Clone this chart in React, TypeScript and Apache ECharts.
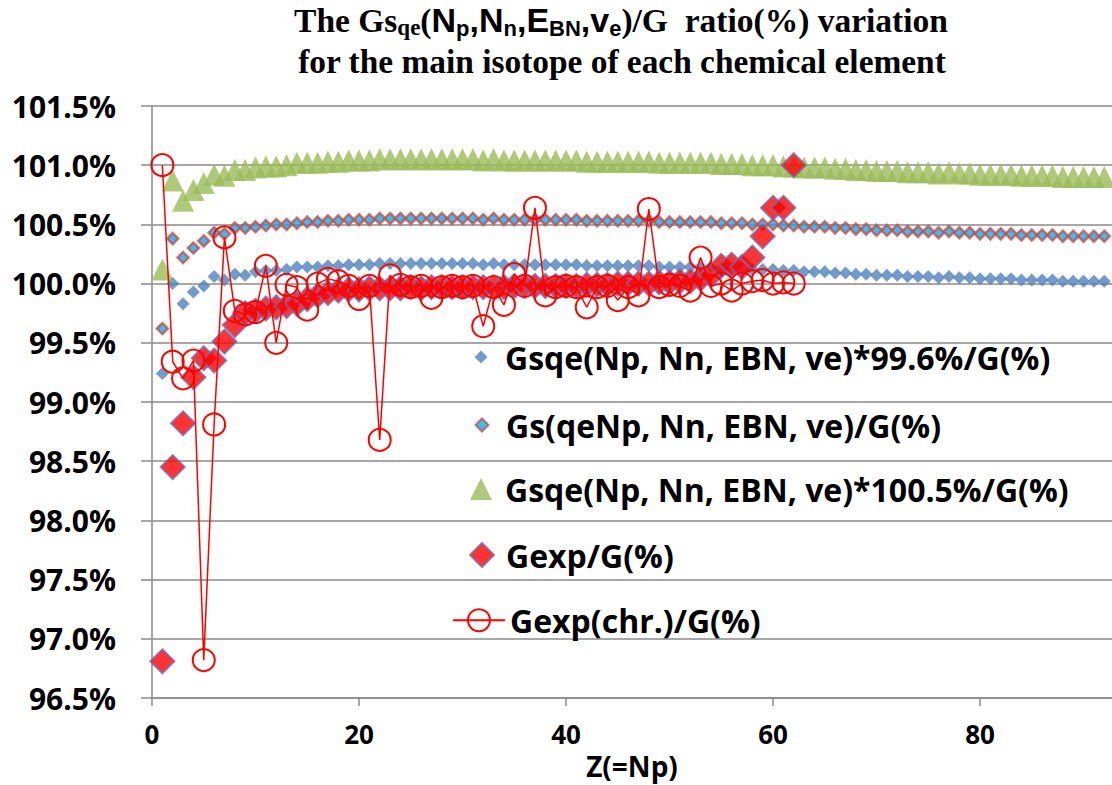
import React, { useEffect, useRef } from "react";
import * as echarts from "echarts";

// Z = Np, proton number (x axis)
const gsqe996: number[] = [
  99.24, 100.0, 99.83, 99.93, 99.98, 100.06, 100.03, 100.08, 100.07, 100.1,
  100.11, 100.11, 100.12, 100.14, 100.14, 100.14, 100.15, 100.15, 100.16, 100.16,
  100.16, 100.17, 100.17, 100.17, 100.17, 100.17, 100.17, 100.17, 100.17, 100.17,
  100.17, 100.16, 100.17, 100.16, 100.16, 100.16, 100.16, 100.16, 100.16, 100.16,
  100.16, 100.15, 100.15, 100.15, 100.15, 100.15, 100.15, 100.15, 100.14, 100.14,
  100.14, 100.14, 100.14, 100.14, 100.13, 100.13, 100.13, 100.12, 100.12, 100.12,
  100.11, 100.11, 100.1, 100.1, 100.1, 100.09, 100.09, 100.08, 100.08, 100.07,
  100.07, 100.07, 100.06, 100.06, 100.06, 100.05, 100.06, 100.05, 100.05, 100.04,
  100.04, 100.04, 100.04, 100.03, 100.03, 100.03, 100.03, 100.02, 100.02, 100.02,
  100.02, 100.02,
];

const gsQeNp: number[] = [
  99.62, 100.38, 100.22, 100.3, 100.36, 100.43, 100.42, 100.47, 100.47, 100.48,
  100.49, 100.5, 100.5, 100.51, 100.52, 100.52, 100.53, 100.53, 100.54, 100.54,
  100.54, 100.55, 100.55, 100.55, 100.55, 100.55, 100.55, 100.55, 100.55, 100.55,
  100.55, 100.54, 100.55, 100.54, 100.54, 100.54, 100.54, 100.54, 100.54, 100.54,
  100.54, 100.53, 100.53, 100.53, 100.53, 100.53, 100.53, 100.53, 100.52, 100.52,
  100.52, 100.52, 100.52, 100.52, 100.51, 100.51, 100.51, 100.5, 100.5, 100.5,
  100.49, 100.49, 100.48, 100.48, 100.48, 100.47, 100.47, 100.46, 100.46, 100.45,
  100.45, 100.45, 100.44, 100.44, 100.44, 100.43, 100.44, 100.43, 100.43, 100.42,
  100.42, 100.42, 100.42, 100.41, 100.41, 100.41, 100.41, 100.4, 100.4, 100.4,
  100.4, 100.4,
];

const gsqe1005: number[] = [
  100.12, 100.87, 100.7, 100.79, 100.85, 100.92, 100.91, 100.96, 100.96, 100.98,
  100.99, 100.99, 101.0, 101.02, 101.02, 101.02, 101.03, 101.03, 101.04, 101.04,
  101.04, 101.05, 101.05, 101.05, 101.05, 101.05, 101.05, 101.05, 101.05, 101.05,
  101.05, 101.04, 101.05, 101.04, 101.04, 101.04, 101.04, 101.04, 101.04, 101.04,
  101.04, 101.03, 101.03, 101.03, 101.03, 101.03, 101.03, 101.03, 101.02, 101.02,
  101.02, 101.02, 101.02, 101.02, 101.01, 101.01, 101.01, 101.0, 101.0, 101.0,
  100.99, 100.99, 100.98, 100.98, 100.98, 100.97, 100.97, 100.96, 100.96, 100.95,
  100.95, 100.95, 100.94, 100.94, 100.94, 100.93, 100.94, 100.93, 100.93, 100.92,
  100.92, 100.92, 100.92, 100.91, 100.91, 100.91, 100.91, 100.9, 100.9, 100.9,
  100.9, 100.9,
];

const gexp: number[] = [
  96.81, 98.45, 98.82, 99.21, 99.37, 99.35, 99.51, 99.65, 99.75, 99.77,
  99.79, 99.8, 99.81, 99.83, 99.87, 99.9, 99.92, 99.94, 99.95, 99.95,
  99.96, 99.96, 99.96, 99.96, 99.97, 99.96, 99.97, 99.97, 99.97, 99.97,
  99.97, 99.97, 99.97, 99.97, 99.98, 99.98, 99.98, 99.98, 99.98, 99.98,
  99.98, 99.99, 99.99, 99.99, 100.0, 100.0, 100.0, 100.0, 100.01, 100.01,
  100.02, 100.02, 100.04, 100.07, 100.15, 100.16, 100.14, 100.22, 100.4, 100.64,
  100.64, 101.0,
];

const gexpChr: number[] = [
  101.0, 99.34, 99.2, 99.35, 96.82, 98.81, 100.39, 99.77, 99.74, 99.76,
  100.15, 99.5, 99.99, 99.97, 99.78, 100.0, 100.04, 100.02, 99.98, 99.87,
  99.98, 98.68, 100.07, 99.99, 99.97, 99.98, 99.88, 99.97, 99.98, 99.97,
  99.98, 99.64, 99.97, 99.82, 100.08, 99.98, 100.64, 99.9, 99.97, 99.98,
  99.97, 99.8, 99.97, 99.98, 99.86, 99.97, 99.9, 100.63, 99.97, 99.99,
  99.98, 99.94, 100.22, 99.98, 100.0, 99.94, 100.0, 100.02, 100.03, 100.0,
  100.01, 100.0,
];

const seriesNames = [
  "Gsqe(Np, Nn, EBN, ve)*99.6%/G(%)",
  "Gs(qeNp, Nn, EBN, ve)/G(%)",
  "Gsqe(Np, Nn, EBN, ve)*100.5%/G(%)",
  "Gexp/G(%)",
  "Gexp(chr.)/G(%)",
];

const xTicks = [0, 20, 40, 60, 80];
const yMin = 96.5;
const yMax = 101.5;
const xMax = 92.75;

const toPairs = (arr: number[]) => arr.map((v, i) => [i + 1, v]);

const SANS = "Open Sans";
const TITLE_SANS = "Liberation Sans";
const SERIF = "Liberation Serif";
const GRID_GRAY = "#8a8a8a";

export default function App() {
  const ref = useRef<HTMLDivElement>(null);

  useEffect(() => {
    if (!ref.current) return;
    const chart = echarts.init(ref.current, undefined, { renderer: "svg" });

    const LEGEND_ICON_X = 481;
    const LEGEND_TEXT_X = 505;

    const mkLegend = (name: string, cy: number, size: number, lineIcon = false) => {
      const w = lineIcon ? 52 : size;
      const left = lineIcon ? 452 : LEGEND_ICON_X - size / 2;
      const textStart = left + w + 5;
      const pad = Math.max(0, LEGEND_TEXT_X - textStart);
      const boxH = Math.max(size, 24);
      return {
        data: [name],
        left,
        top: cy - boxH / 2 - 7,
        itemWidth: w,
        itemHeight: size,
        padding: 0,
        selectedMode: false,
        orient: "vertical",
        formatter: (n: string) => `{t|${n}}`,
        textStyle: {
          fontFamily: SANS,
          fontWeight: "bold",
          fontSize: 32,
          color: "#000",
          lineHeight: 24,
          rich: {
            t: {
              fontFamily: SANS,
              fontWeight: "bold",
              fontSize: 32,
              color: "#000",
              lineHeight: 24,
              padding: [0, 0, 0, pad],
            },
          },
        },
      };
    };

    const rich = {
      a: { fontFamily: SERIF, fontWeight: "bold", fontSize: 33.5, lineHeight: 38, color: "#000" },
      b: { fontFamily: SERIF, fontWeight: "bold", fontSize: 23, lineHeight: 24, verticalAlign: "bottom", color: "#000" },
      c: { fontFamily: TITLE_SANS, fontWeight: "bold", fontSize: 34, lineHeight: 38, color: "#000" },
      d: { fontFamily: TITLE_SANS, fontWeight: "bold", fontSize: 22, lineHeight: 24, verticalAlign: "bottom", color: "#000" },
    };

    chart.setOption({
      animation: false,
      backgroundColor: "#fff",
      graphic: [
        {
          type: "text",
          x: 621,
          y: 20,
          style: {
            text: "{a|The Gs}{b|qe}{a|(}{c|N}{d|p}{c|,N}{d|n}{c|,E}{d|BN}{c|,v}{d|e}{a|)/G  ratio(%) variation}",
            rich,
            align: "center",
            verticalAlign: "middle",
          },
        },
        {
          type: "text",
          x: 622,
          y: 61,
          style: {
            text: "{a|for the main isotope of each chemical element}",
            rich: { a: { ...rich.a, fontSize: 33.4 } },
            align: "center",
            verticalAlign: "middle",
          },
        },
      ],
      grid: { left: 152, right: 0, top: 106, bottom: 83, containLabel: false },
      xAxis: {
        type: "value",
        min: 0,
        max: xMax,
        interval: 20,
        name: "Z(=Np)",
        nameLocation: "middle",
        nameGap: 54,
        nameTextStyle: { fontFamily: SANS, fontWeight: "bold", fontSize: 28, color: "#000" },
        axisLine: { show: true, lineStyle: { color: GRID_GRAY, width: 1.5 } },
        axisTick: { show: true, length: 8, lineStyle: { color: GRID_GRAY, width: 1.5 } },
        axisLabel: {
          margin: 23,
          fontFamily: SANS,
          fontWeight: "bold",
          fontSize: 26,
          color: "#000",
          showMaxLabel: false,
          formatter: (v: number) => (xTicks.includes(v) ? String(v) : ""),
        },
        splitLine: { show: false },
      },
      yAxis: {
        type: "value",
        min: yMin,
        max: yMax,
        interval: 0.5,
        axisLine: { show: true, lineStyle: { color: GRID_GRAY, width: 1.5 } },
        axisTick: { show: true, length: 11, lineStyle: { color: GRID_GRAY, width: 1.5 } },
        axisLabel: {
          margin: 36,
          fontFamily: SANS,
          fontWeight: "bold",
          fontSize: 30,
          color: "#000",
          formatter: (v: number) => v.toFixed(1) + "%",
        },
        splitLine: { show: true, lineStyle: { color: GRID_GRAY, width: 1.5 } },
      },
      legend: [
        mkLegend(seriesNames[0], 360, 13),
        mkLegend(seriesNames[1], 428, 13),
        mkLegend(seriesNames[2], 492, 22),
        mkLegend(seriesNames[3], 558, 24),
        mkLegend(seriesNames[4], 625, 27.5, true),
      ],
      series: [
        {
          name: seriesNames[0],
          type: "scatter",
          symbol: "diamond",
          symbolSize: 13,
          data: toPairs(gsqe996),
          itemStyle: { color: "#4F81BD" },
          clip: false,
        },
        {
          name: seriesNames[1],
          type: "scatter",
          symbol: "diamond",
          symbolSize: 11,
          data: toPairs(gsQeNp),
          itemStyle: { color: "#12A9E8", borderColor: "#C0504D", borderWidth: 2.5 },
          clip: false,
        },
        {
          name: seriesNames[2],
          type: "scatter",
          symbol: "triangle",
          symbolSize: 22,
          data: toPairs(gsqe1005),
          itemStyle: { color: "#9BBB59" },
          clip: false,
        },
        {
          name: seriesNames[3],
          type: "scatter",
          symbol: "diamond",
          symbolSize: 24,
          data: toPairs(gexp),
          itemStyle: { color: "#FF0000", borderColor: "#8064A2", borderWidth: 2 },
          clip: false,
        },
        {
          name: seriesNames[4],
          type: "line",
          symbol: "circle",
          symbolSize: 22,
          showAllSymbol: true,
          data: toPairs(gexpChr),
          lineStyle: { color: "#FF0000", width: 1.5 },
          itemStyle: { color: "rgba(255,255,255,0)", borderColor: "#FF0000", borderWidth: 2 },
          clip: false,
        },
      ],
    });

    return () => chart.dispose();
  }, []);

  return (
    <div
      ref={ref}
      style={{ position: "absolute", left: 0, top: 0, width: 1112, height: 785, background: "#fff" }}
    />
  );
}
